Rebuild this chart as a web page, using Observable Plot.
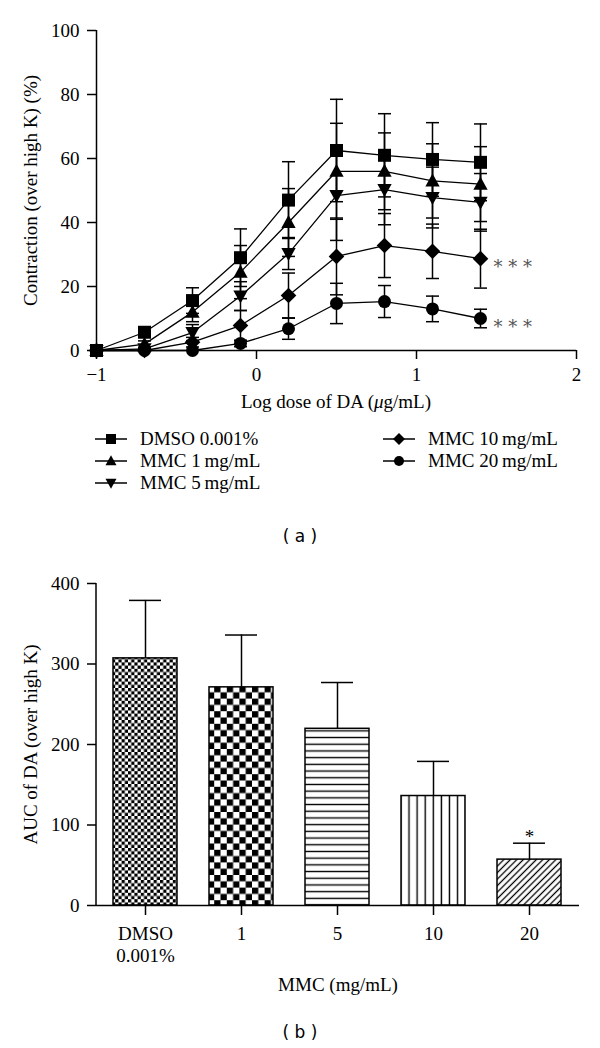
<!DOCTYPE html>
<html><head><meta charset="utf-8">
<script src="https://cdn.jsdelivr.net/npm/d3@7"></script>
<script src="https://cdn.jsdelivr.net/npm/@observablehq/plot@0.6"></script>
<style>
body{margin:0;background:#fff;}
#root{position:relative;width:600px;height:1048px;overflow:hidden;font-family:"Liberation Serif",serif;color:#000;background:#fff;}
.abs{position:absolute;white-space:nowrap;}
.serif{font-family:"Liberation Serif",serif;font-size:19px;line-height:22px;}
.cap{font-family:"DejaVu Sans",sans-serif;font-size:17px;line-height:22px;text-align:center;}
</style></head><body><div id="root"></div>
<script>
// ---------- data: panel (a) ----------
const doses = [-1, -0.7, -0.4, -0.1, 0.2, 0.5, 0.8, 1.1, 1.4];
const seriesNames = ["DMSO 0.001%", "MMC 1 mg/mL", "MMC 5 mg/mL", "MMC 10 mg/mL", "MMC 20 mg/mL"];
const dmsoMean  = [0, 5.7, 15.6, 29.0, 47.0, 62.5, 61.0, 59.7, 58.8];
const dmsoErr   = [0, 1.2, 4.0, 9.0, 12.0, 16.0, 13.0, 11.5, 12.0];
const mmc1Mean  = [0, 2.0, 12.0, 24.5, 40.0, 56.0, 56.0, 53.0, 52.0];
const mmc1Err   = [0, 1.0, 3.0, 8.3, 10.6, 15.0, 12.0, 11.6, 11.7];
const mmc5Mean  = [0, 0.5, 5.6, 17.0, 30.3, 48.4, 50.3, 47.8, 46.3];
const mmc5Err   = [0, 0.5, 2.5, 4.5, 5.0, 14.0, 11.0, 9.5, 9.0];
const mmc10Mean = [0, 0, 2.6, 7.8, 17.2, 29.4, 32.8, 31.0, 28.7];
const mmc10Err  = [0, 0, 1.5, 4.7, 7.0, 12.0, 10.0, 8.5, 9.2];
const mmc20Mean = [0, 0, 0, 2.2, 6.8, 14.7, 15.3, 13.0, 10.0];
const mmc20Err  = [0, 0, 0, 1.0, 3.3, 6.3, 5.0, 4.0, 2.9];
const curveSig  = ["", "", "", "* * *", "* * *"];
const xTicksA = [-1, 0, 1, 2];
const yTicksA = [0, 20, 40, 60, 80, 100];
const yLabelA = "Contraction (over high K) (%)";

// ---------- data: panel (b) ----------
const mmcGroups = ["DMSO\n0.001%", "1", "5", "10", "20"];
const aucMean = [307, 271, 219.5, 136, 57];
const aucErr  = [72, 65, 57.5, 43, 20.4];
const aucSig  = ["", "", "", "", "*"];
const yTicksB = [0, 100, 200, 300, 400];
const yLabelB = "AUC of DA (over high K)";

// ---------- build tables ----------
const means = [dmsoMean, mmc1Mean, mmc5Mean, mmc10Mean, mmc20Mean];
const errs = [dmsoErr, mmc1Err, mmc5Err, mmc10Err, mmc20Err];
const rows = [];
seriesNames.forEach((s, i) => doses.forEach((x, j) => rows.push({series: s, si: i, x, y: means[i][j], e: errs[i][j]})));
const errRows = rows.filter(d => d.e > 0);
const sigRows = seriesNames.map((s, i) => ({x: doses[doses.length - 1], y: means[i][doses.length - 1], label: curveSig[i]})).filter(d => d.label);

// ---------- symbols ----------
function sym(fn) { return {draw(ctx, size) { const r = Math.sqrt(size / Math.PI); fn(ctx, r); }}; }
const shapes = {
  square: sym((c, r) => { c.moveTo(-r, -r); c.lineTo(r, -r); c.lineTo(r, r); c.lineTo(-r, r); c.closePath(); }),
  triUp: sym((c, r) => { const w = r * 1.1; c.moveTo(0, -r * 1.15); c.lineTo(w, r * 0.85); c.lineTo(-w, r * 0.85); c.closePath(); }),
  triDown: sym((c, r) => { const w = r * 1.1; c.moveTo(0, r * 1.15); c.lineTo(w, -r * 0.85); c.lineTo(-w, -r * 0.85); c.closePath(); }),
  diamond: sym((c, r) => { const d = r * 1.2; c.moveTo(0, -d); c.lineTo(d, 0); c.lineTo(0, d); c.lineTo(-d, 0); c.closePath(); }),
  circle: sym((c, r) => { c.moveTo(r, 0); c.arc(0, 0, r, 0, 2 * Math.PI); }),
  cap: sym((c, r) => { c.moveTo(-r, 0); c.lineTo(r, 0); })
};
const seriesShape = ["square", "triUp", "triDown", "diamond", "circle"];

const FONT = '"Liberation Serif", serif';
const FS = 19;
const fontStyle = {fontFamily: FONT, fontSize: FS + "px", color: "#000", background: "#fff", overflow: "visible"};
const intFmt = d3.format("d");

// ---------- panel (a) ----------
const chartA = Plot.plot({
  width: 600, height: 420,
  marginTop: 30, marginBottom: 70, marginLeft: 96, marginRight: 24,
  style: fontStyle,
  x: {domain: [-1, 2]},
  y: {domain: [0, 100]},
  marks: [
    Plot.ruleY([0], {strokeWidth: 1.5}),
    Plot.ruleX([-1], {strokeWidth: 1.5}),
    Plot.axisX({ticks: xTicksA, tickFormat: intFmt, tickSize: 9, tickPadding: 8, strokeWidth: 1.5, label: null, fontSize: FS, fontFamily: FONT}),
    Plot.axisY({ticks: yTicksA, tickFormat: intFmt, tickSize: 9, tickPadding: 8, strokeWidth: 1.5, label: null, fontSize: FS, fontFamily: FONT}),
    Plot.text([yLabelA], {frameAnchor: "left", textAnchor: "middle", rotate: -90, dx: -66, text: d => d, fontSize: FS, fontFamily: FONT}),
    Plot.ruleX(errRows, {x: "x", y1: d => d.y - d.e, y2: d => d.y + d.e, strokeWidth: 1.5}),
    Plot.dot(errRows, {x: "x", y: d => d.y + d.e, symbol: shapes.cap, r: 6.5, stroke: "black", fill: "none", strokeWidth: 1.5}),
    Plot.dot(errRows, {x: "x", y: d => d.y - d.e, symbol: shapes.cap, r: 6.5, stroke: "black", fill: "none", strokeWidth: 1.5}),
    Plot.line(rows, {x: "x", y: "y", z: "series", stroke: "black", strokeWidth: 1.3}),
    ...seriesNames.map((s, i) => Plot.dot(rows.filter(d => d.si === i), {x: "x", y: "y", symbol: shapes[seriesShape[i]], r: 6.5, fill: "black", stroke: "none"})),
    Plot.text(sigRows, {x: "x", y: "y", text: "label", dx: 13, dy: 9, textAnchor: "start", fill: "#555", fontSize: 18, fontFamily: '"DejaVu Serif", serif'})
  ]
});

// ---------- panel (b) ----------
const bars = mmcGroups.map((g, i) => ({g, v: aucMean[i], e: aucErr[i], sig: aucSig[i]}));
const fillFor = {};
const patIds = ["patFine", "patChecker", "patH", "patV", "patDiag"];
mmcGroups.forEach((g, i) => fillFor[g] = `url(#${patIds[i]})`);

const chartB = Plot.plot({
  width: 600, height: 425,
  marginTop: 23, marginBottom: 80, marginLeft: 96, marginRight: 21,
  style: fontStyle,
  x: {domain: mmcGroups, paddingInner: 0.33, paddingOuter: 0.165},
  y: {domain: [0, 400]},
  color: {type: "identity"},
  marks: [
    Plot.barY(bars, {x: "g", y: "v", fill: d => fillFor[d.g], stroke: "black", strokeWidth: 1.5}),
    Plot.ruleX(bars, {x: "g", y1: "v", y2: d => d.v + d.e, strokeWidth: 1.5}),
    Plot.tickY(bars, {x: "g", y: d => d.v + d.e, strokeWidth: 1.5, insetLeft: 16, insetRight: 16}),
    Plot.text(bars.filter(d => d.sig), {x: "g", y: d => d.v + d.e, text: "sig", dy: -6, fontSize: 19, fontFamily: FONT}),
    Plot.ruleY([0], {strokeWidth: 1.5}),
    Plot.axisX({tickSize: 10, tickPadding: 8, strokeWidth: 1.5, label: null, lineHeight: 1.2, fontSize: FS, fontFamily: FONT}),
    Plot.axisY({ticks: yTicksB, tickFormat: intFmt, tickSize: 9, tickPadding: 8, strokeWidth: 1.5, label: null, fontSize: FS, fontFamily: FONT}),
    Plot.text([yLabelB], {frameAnchor: "left", textAnchor: "middle", rotate: -90, dx: -66, text: d => d, fontSize: FS, fontFamily: FONT})
  ]
});

// patterns
(function addDefs(svg) {
  const defs = d3.select(svg).insert("defs", ":first-child");
  const pat = (id, w, h) => defs.append("pattern").attr("id", id).attr("patternUnits", "userSpaceOnUse").attr("width", w).attr("height", h);
  let p = pat("patFine", 6.4, 6.4);
  p.append("rect").attr("width", 6.4).attr("height", 6.4).attr("fill", "#fff");
  p.append("rect").attr("width", 3.2).attr("height", 3.2).attr("fill", "#000");
  p.append("rect").attr("x", 3.2).attr("y", 3.2).attr("width", 3.2).attr("height", 3.2).attr("fill", "#000");
  p = pat("patChecker", 12.6, 12.6);
  p.append("rect").attr("width", 12.6).attr("height", 12.6).attr("fill", "#fff");
  p.append("rect").attr("width", 6.3).attr("height", 6.3).attr("fill", "#000");
  p.append("rect").attr("x", 6.3).attr("y", 6.3).attr("width", 6.3).attr("height", 6.3).attr("fill", "#000");
  p = pat("patH", 10, 6.7);
  p.append("rect").attr("width", 10).attr("height", 6.7).attr("fill", "#fff");
  p.append("line").attr("x1", 0).attr("x2", 10).attr("y1", 3.35).attr("y2", 3.35).attr("stroke", "#000").attr("stroke-width", 1.4);
  p = pat("patV", 8.1, 10);
  p.append("rect").attr("width", 8.1).attr("height", 10).attr("fill", "#fff");
  p.append("line").attr("y1", 0).attr("y2", 10).attr("x1", 4).attr("x2", 4).attr("stroke", "#000").attr("stroke-width", 1.4);
  p = pat("patDiag", 4.6, 10).attr("patternTransform", "rotate(45)");
  p.append("rect").attr("width", 4.6).attr("height", 10).attr("fill", "#fff");
  p.append("line").attr("y1", 0).attr("y2", 10).attr("x1", 2.3).attr("x2", 2.3).attr("stroke", "#000").attr("stroke-width", 1.3);
})(chartB);

// left axis line for panel (b), from the plot's own scale
(function () {
  const ys = chartB.scale("y");
  d3.select(chartB).append("line")
    .attr("x1", 96).attr("x2", 96)
    .attr("y1", ys.apply(yTicksB[0])).attr("y2", ys.apply(yTicksB[yTicksB.length - 1]))
    .attr("stroke", "#000").attr("stroke-width", 1.5);
})();

// ---------- layout ----------
const root = document.getElementById("root");
function place(el, left, top) { el.style.position = "absolute"; el.style.left = left + "px"; el.style.top = top + "px"; root.appendChild(el); return el; }
place(chartA, 0, 0);
place(chartB, 0, 560);

function div(html, cls, left, top, width, align) {
  const d = document.createElement("div");
  d.className = "abs " + cls;
  d.innerHTML = html;
  if (width) { d.style.width = width + "px"; d.style.textAlign = align || "center"; }
  return place(d, left, top);
}
div('Log dose of DA (<i>μ</i>g/mL)', "serif", 136, 391, 400);
div('MMC (mg/mL)', "serif", 188, 974, 300);
div('( a )', "cap", 200, 525, 200);
div('( b )', "cap", 200, 1021, 200);

// legend
const legendRows = [439, 461, 483];
const legendPos = [[0, 0], [0, 1], [0, 2], [1, 0], [1, 1]];
const colMarker = [93, 381], colText = [140, 428];
seriesNames.forEach((s, i) => {
  const [c, r] = legendPos[i];
  const y = legendRows[r];
  const svg = d3.create("svg").attr("width", 36).attr("height", 20);
  svg.append("line").attr("x1", 2).attr("x2", 34).attr("y1", 10).attr("y2", 10).attr("stroke", "#000").attr("stroke-width", 1.5);
  const p = d3.path(); shapes[seriesShape[i]].draw(p, Math.PI * 25);
  svg.append("path").attr("d", p.toString()).attr("transform", "translate(18,10)").attr("fill", "#000");
  place(svg.node(), colMarker[c], y - 10);
  div(s.replace(/ mg/, "&#8201;mg"), "serif", colText[c], y - 11);
});
</script>
</body></html>
